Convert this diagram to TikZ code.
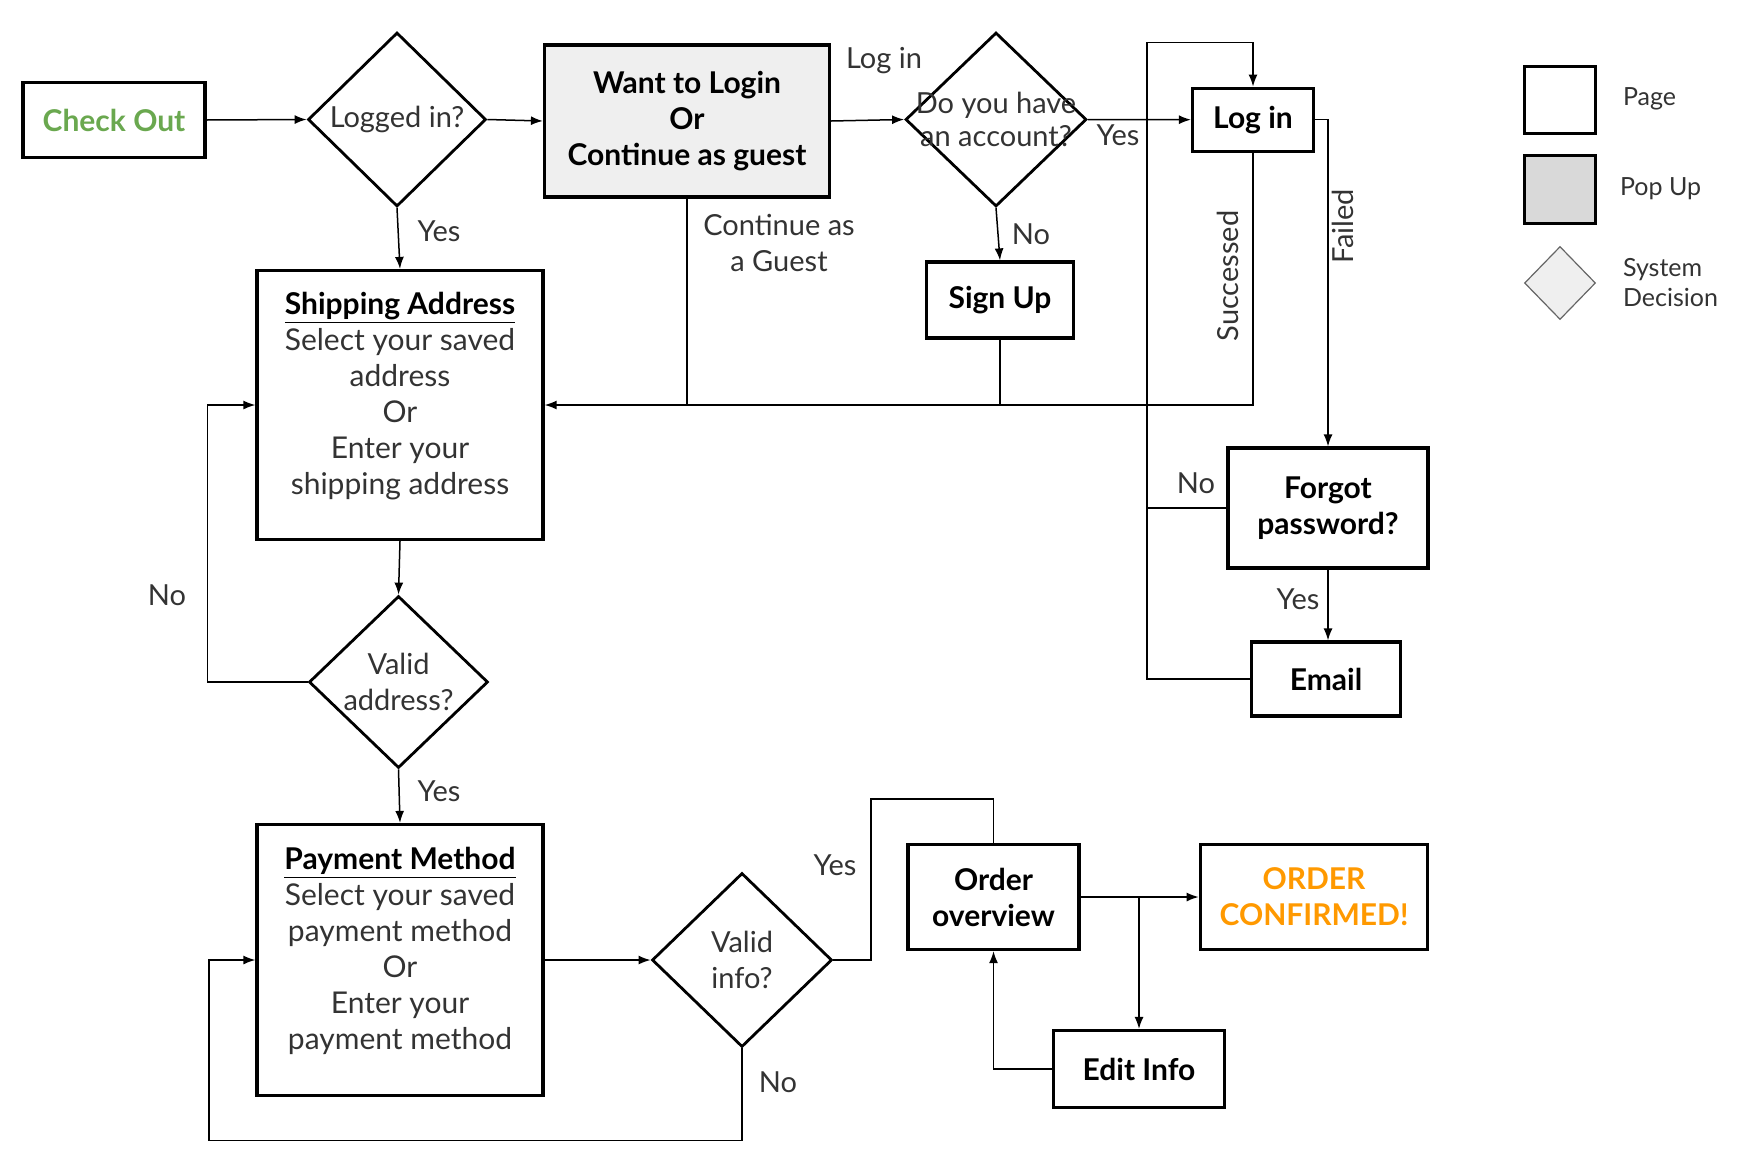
\documentclass[tikz,border=0pt]{standalone}
\usepackage{fontspec}
\setmainfont{Lato}
\usetikzlibrary{shapes.geometric,arrows.meta,positioning}
\definecolor{okgreen}{HTML}{6AA84F}
\definecolor{okorange}{HTML}{FF9900}
\definecolor{popfill}{HTML}{EFEFEF}
\definecolor{legfill}{HTML}{D9D9D9}
\definecolor{txtgray}{HTML}{333333}
\tikzset{
  pagebox/.style={draw,line width=1.6pt,inner sep=0pt,align=center,
    font=\fontsize{15}{18}\selectfont\bfseries},
  decide/.style={draw,diamond,line width=1.4pt,inner sep=0pt},
  flow/.style={line width=0.75pt,-{Latex[length=6pt,width=4.5pt]}},
  wire/.style={line width=0.75pt},
  lbl/.style={text=txtgray,align=center,font=\fontsize{14.5}{18}\selectfont},
  bodytxt/.style={lbl,font=\fontsize{15}{18}\selectfont,yshift=4.5pt},
}
\begin{document}
\begin{tikzpicture}[x=0.5pt,y=-0.5pt]
    \useasboundingbox (0,0) rectangle (1764,1162);

    % ページ
    \node[pagebox,minimum width=91pt,minimum height=37.5pt,text=okgreen] (checkout) at (114,120) {Check Out};
    \node[decide,minimum width=89pt,minimum height=87pt,
          label={[lbl]center:Logged in?}] (logged) at (397,119.5) {};
    \node[pagebox,fill=popfill,minimum width=142.5pt,minimum height=76pt] (want) at (687,121)
        {Want to Login\\Or\\Continue as guest};
    \node[decide,minimum width=90.5pt,minimum height=87pt,
          label={[lbl,font=\fontsize{14.5}{16.5}\selectfont]center:Do you have\\an account?}] (account) at (996,119.5) {};
    \node[pagebox,minimum width=60.5pt,minimum height=31.5pt] (login) at (1253,119.7) {Log in};
    \node[pagebox,minimum width=73.5pt,minimum height=38pt] (signup) at (1000,300) {Sign Up};
    \node[pagebox,minimum width=143pt,minimum height=134.5pt,
          label={[bodytxt]center:{\bfseries\color{black}\underline{Shipping Address}}\\Select your saved\\address\\Or\\Enter your\\shipping address}] (ship) at (400,405) {};
    \node[pagebox,minimum width=100pt,minimum height=60pt] (forgot) at (1328,508) {Forgot\\password?};
    \node[pagebox,minimum width=74.5pt,minimum height=37pt] (email) at (1326,679) {Email};
    \node[decide,minimum width=89.5pt,minimum height=86pt,
          label={[lbl]center:Valid\\address?}] (vaddr) at (398.5,682) {};
    \node[pagebox,minimum width=143pt,minimum height=135.5pt,
          label={[bodytxt]center:{\bfseries\color{black}\underline{Payment Method}}\\Select your saved\\payment method\\Or\\Enter your\\payment method}] (pay) at (400,960) {};
    \node[decide,minimum width=90pt,minimum height=87pt,
          label={[lbl]center:Valid\\info?}] (vinfo) at (742,960) {};
    \node[pagebox,minimum width=85.5pt,minimum height=52.5pt] (order) at (993.5,897) {Order\\overview};
    \node[pagebox,minimum width=113.75pt,minimum height=52.5pt,text=okorange] (done) at (1314,897) {ORDER\\CONFIRMED!};
    \node[pagebox,minimum width=85.75pt,minimum height=38.5pt] (edit) at (1139,1069) {Edit Info};

    % 接続
    \draw[flow] (checkout.east) -- (logged.west);
    \draw[flow] (logged.east) -- (want.west);
    \draw[flow] (want.east) -- (account.west);
    \draw[flow] (account.east) -- (login.west);
    \draw[flow] (account.south) -- (signup.north);
    \draw[flow] (logged.south) -- (ship.north);
    \draw[flow] (login.south) |- (ship.east);
    \draw[wire] (want.south) -- (want.south |- ship.east);
    \draw[wire] (signup.south) -- (signup.south |- ship.east);
    \draw[flow] (login.east) -| (forgot.north);
    \draw[flow] (forgot.south) -- (forgot.south |- email.north);
    \coordinate (loopL) at (1147,42.6);
    \draw[flow] (email.west) -| (loopL) -| (login.north);
    \draw[wire] (forgot.west) -- (forgot.west -| loopL);
    \draw[flow] (ship.south) -- (vaddr.north);
    \draw[flow] (vaddr.west) -- ++(-100,0) |- (ship.west);
    \draw[flow] (vaddr.south) -- (pay.north);
    \draw[flow] (pay.east) -- (vinfo.west);
    \coordinate (payLoop) at (209,1140.5);
    \draw[flow] (vinfo.south) |- (payLoop) |- (pay.west);
    \coordinate (yesTurn) at (871,799);
    \draw[wire] (vinfo.east) -| (yesTurn) -| (order.north);
    \draw[flow] (order.east) -- (done.west);
    \draw[flow] (edit.north |- order.east) -- (edit.north);
    \draw[flow] (edit.west) -| (order.south);

    % ラベル
    \node[lbl] (tLogin) at (884,61) {Log in};
    \node[lbl] (tYesA) at (1118,135) {Yes};
    \node[lbl] (tNoA) at (1031,234) {No};
    \node[lbl] (tYesL) at (439,231.6) {Yes};
    \node[lbl] (tGuest) at (779,243) {Continue as\\a Guest};
    \node[lbl,rotate=90] (tOk) at (1228,276) {Successed};
    \node[lbl,rotate=90] (tFail) at (1343,226) {Failed};
    \node[lbl] (tNoF) at (1196,483.5) {No};
    \node[lbl] (tYesF) at (1298,599.5) {Yes};
    \node[lbl] (tNoV) at (167,595) {No};
    \node[lbl] (tYesV) at (439,791.5) {Yes};
    \node[lbl] (tYesI) at (835,865.5) {Yes};
    \node[lbl] (tNoI) at (778,1082) {No};

    % 凡例
    \node[draw,line width=1.6pt,minimum width=35.5pt,minimum height=33.5pt] (legPage) at (1560,100) {};
    \node[draw,line width=1.6pt,fill=legfill,minimum width=35.5pt,minimum height=34pt] (legPop) at (1560,189.5) {};
    \node[draw=black!60,diamond,fill=popfill,line width=0.6pt,inner sep=0pt,minimum width=35.5pt,minimum height=36.5pt] (legDec) at (1560,283) {};
    \node[lbl,anchor=west,font=\fontsize{12.5}{15}\selectfont] (tPage) at (1616,99.3) {Page};
    \node[lbl,anchor=west,font=\fontsize{12.5}{15}\selectfont] (tPop) at (1613,189) {Pop Up};
    \node[lbl,anchor=west,align=left,font=\fontsize{12.5}{15}\selectfont] (tDec) at (1616,283) {System\\Decision};
\end{tikzpicture}
\end{document}
